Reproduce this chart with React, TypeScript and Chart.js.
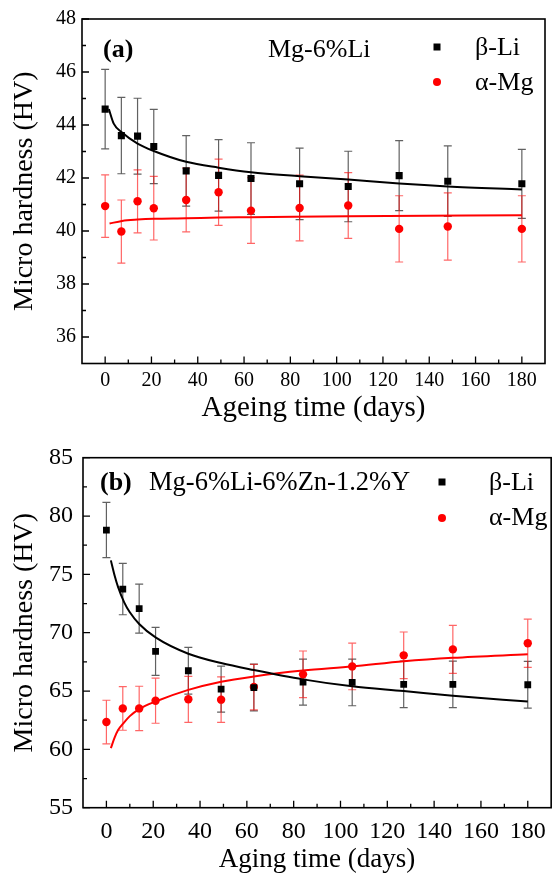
import React, { useEffect, useRef } from "react";
import { Chart, registerables } from "chart.js";

Chart.register(...registerables);

const FONT = "'Liberation Serif', 'Times New Roman', serif";

// ---- data ----
const DAYS = [0, 7, 14, 21, 35, 49, 63, 84, 105, 127, 148, 180];

// Panel (a) Mg-6%Li
const A_BETA = [44.6, 43.6, 43.58, 43.19, 42.27, 42.1, 41.98, 41.78, 41.68, 42.09, 41.88, 41.78];
const A_BETA_ERR = [1.5, 1.44, 1.43, 1.4, 1.33, 1.35, 1.35, 1.35, 1.33, 1.32, 1.33, 1.3];
const A_ALPHA = [40.94, 39.98, 41.12, 40.86, 41.17, 41.46, 40.77, 40.87, 40.96, 40.08, 40.17, 40.08];
const A_ALPHA_ERR = [1.18, 1.19, 1.19, 1.2, 1.2, 1.25, 1.24, 1.24, 1.24, 1.25, 1.27, 1.25];
const A_BETA_FIT_DAYS = [1.6, 3.7, 7.3, 14, 21, 35, 49, 63, 84, 105, 127, 148, 180];
const A_BETA_FIT = [44.6, 44.05, 43.72, 43.3, 43.02, 42.61, 42.39, 42.22, 42.07, 41.94, 41.79, 41.68, 41.57];
const A_ALPHA_FIT_DAYS = [1.9, 7.3, 14, 21, 35, 49, 63, 105, 180];
const A_ALPHA_FIT = [40.28, 40.38, 40.43, 40.46, 40.48, 40.51, 40.52, 40.56, 40.59];

// Panel (b) Mg-6%Li-6%Zn-1.2%Y
const B_BETA = [78.8, 73.74, 72.06, 68.4, 66.74, 65.17, 65.3, 65.77, 65.74, 65.57, 65.57, 65.54];
const B_BETA_ERR = [2.37, 2.2, 2.1, 2.05, 2.0, 1.97, 2.0, 1.97, 2.0, 2.0, 2.0, 2.0];
const B_ALPHA = [62.34, 63.51, 63.51, 64.17, 64.29, 64.26, 65.34, 66.43, 67.11, 68.06, 68.57, 69.09];
const B_ALPHA_ERR = [1.87, 1.87, 1.9, 1.93, 1.97, 1.95, 1.95, 2.0, 2.0, 2.0, 2.05, 2.07];
const B_BETA_FIT_DAYS = [1.9, 3.5, 5, 7.6, 10, 14, 21, 35, 49, 63, 84, 105, 127, 148, 180];
const B_BETA_FIT = [76.2, 74.9, 73.9, 72.6, 71.75, 70.75, 69.6, 68.2, 67.4, 66.8, 66.0, 65.4, 65.0, 64.6, 64.1];
const B_ALPHA_FIT_DAYS = [1.9, 3.5, 5, 7.5, 10, 14, 21, 35, 49, 63, 84, 105, 127, 148, 180];
const B_ALPHA_FIT = [60.1, 61.0, 61.65, 62.3, 62.85, 63.45, 64.1, 65.1, 65.8, 66.25, 66.75, 67.1, 67.55, 67.85, 68.15];

// ---- ticks ----
const X_TICKS = [0, 20, 40, 60, 80, 100, 120, 140, 160, 180];
const X_MINOR = [10, 30, 50, 70, 90, 110, 130, 150, 170];
const A_Y_TICKS = [36, 38, 40, 42, 44, 46, 48];
const A_Y_MINOR = [37, 39, 41, 43, 45, 47];
const B_Y_TICKS = [55, 60, 65, 70, 75, 80, 85];
const B_Y_MINOR = [57.5, 62.5, 67.5, 72.5, 77.5, 82.5];

const RED = "#ff0000";
const BLACK = "#000000";

const pts = (xs: number[], ys: number[]) => xs.map((x, i) => ({ x, y: ys[i] }));

// ---- plugins ----
const errorBarPlugin = {
  id: "errorBars",
  beforeDatasetsDraw(chart: any) {
    const { ctx } = chart;
    const xs = chart.scales.x;
    const ys = chart.scales.y;
    chart.data.datasets.forEach((ds: any) => {
      if (!ds.errors) return;
      ctx.save();
      ctx.strokeStyle = ds.errorColor;
      ctx.lineWidth = 1.2;
      ctx.beginPath();
      const cap = 4;
      ds.data.forEach((p: any, i: number) => {
        const e = ds.errors[i];
        const px = xs.getPixelForValue(p.x);
        const top = ys.getPixelForValue(p.y + e);
        const bot = ys.getPixelForValue(p.y - e);
        ctx.moveTo(px, top);
        ctx.lineTo(px, bot);
        ctx.moveTo(px - cap, top);
        ctx.lineTo(px + cap, top);
        ctx.moveTo(px - cap, bot);
        ctx.lineTo(px + cap, bot);
      });
      ctx.stroke();
      ctx.restore();
    });
  },
};

const framePlugin = {
  id: "frame",
  afterDatasetsDraw(chart: any, _args: any, opts: any) {
    const { ctx, chartArea: a } = chart;
    const xs = chart.scales.x;
    const ys = chart.scales.y;
    ctx.save();
    ctx.strokeStyle = "#000";
    ctx.lineWidth = 1.6;
    ctx.strokeRect(a.left, a.top, a.right - a.left, a.bottom - a.top);
    ctx.lineWidth = 1.3;
    ctx.beginPath();
    const major = 7;
    const minor = 4;
    opts.xMajor.forEach((v: number) => {
      const p = xs.getPixelForValue(v);
      ctx.moveTo(p, a.bottom);
      ctx.lineTo(p, a.bottom - major);
    });
    opts.xMinor.forEach((v: number) => {
      const p = xs.getPixelForValue(v);
      ctx.moveTo(p, a.bottom);
      ctx.lineTo(p, a.bottom - minor);
    });
    opts.yMajor.forEach((v: number) => {
      const p = ys.getPixelForValue(v);
      ctx.moveTo(a.left, p);
      ctx.lineTo(a.left + major, p);
    });
    opts.yMinor.forEach((v: number) => {
      const p = ys.getPixelForValue(v);
      ctx.moveTo(a.left, p);
      ctx.lineTo(a.left + minor, p);
    });
    ctx.stroke();
    ctx.restore();
  },
};

const annotPlugin = {
  id: "annot",
  afterDraw(chart: any, _args: any, opts: any) {
    const { ctx } = chart;
    ctx.save();
    ctx.textBaseline = "middle";
    ctx.textAlign = "left";
    ctx.fillStyle = "#000";
    (opts.texts || []).forEach((t: any) => {
      ctx.font = `${t.bold ? "bold " : ""}${t.size}px ${FONT}`;
      ctx.fillText(t.text, t.x, t.y);
    });
    (opts.markers || []).forEach((m: any) => {
      ctx.fillStyle = m.color;
      ctx.beginPath();
      if (m.shape === "rect") {
        ctx.rect(m.x - m.s / 2, m.y - m.s / 2, m.s, m.s);
      } else {
        ctx.arc(m.x, m.y, m.s / 2, 0, Math.PI * 2);
      }
      ctx.fill();
    });
    ctx.restore();
  },
};

type PanelCfg = {
  width: number;
  height: number;
  padTop: number;
  padRight: number;
  yAxisW: number;
  xAxisH: number;
  yMin: number;
  yMax: number;
  yTicks: number[];
  yMinor: number[];
  tickSize: number;
  xTickPad: number;
  yTickPad: number;
  xTitle: string;
  xTitleSize: number;
  xTitlePad: number;
  yTitleSize: number;
  yTitlePad: number;
  beta: number[];
  betaErr: number[];
  alpha: number[];
  alphaErr: number[];
  betaFitX: number[];
  betaFit: number[];
  alphaFitX: number[];
  alphaFit: number[];
  texts: any[];
  markers: any[];
  squareR: number;
  circleR: number;
};

const PANEL_A: PanelCfg = {
  width: 556,
  height: 430,
  padTop: 19,
  padRight: 11,
  yAxisW: 82,
  xAxisH: 66.5,
  yMin: 35,
  yMax: 48,
  yTicks: A_Y_TICKS,
  yMinor: A_Y_MINOR,
  tickSize: 20,
  xTickPad: 5,
  yTickPad: 6,
  xTitle: "Ageing time (days)",
  xTitleSize: 29,
  xTitlePad: 4,
  yTitleSize: 28,
  yTitlePad: 8,
  beta: A_BETA,
  betaErr: A_BETA_ERR,
  alpha: A_ALPHA,
  alphaErr: A_ALPHA_ERR,
  betaFitX: A_BETA_FIT_DAYS,
  betaFit: A_BETA_FIT,
  alphaFitX: A_ALPHA_FIT_DAYS,
  alphaFit: A_ALPHA_FIT,
  texts: [
    { text: "(a)", x: 103, y: 50, size: 26, bold: true },
    { text: "Mg-6%Li", x: 268, y: 50, size: 26 },
    { text: "β-Li", x: 475, y: 48, size: 26 },
    { text: "α-Mg", x: 475, y: 83, size: 26 },
  ],
  markers: [
    { shape: "rect", x: 437, y: 47, s: 7, color: BLACK },
    { shape: "circle", x: 437, y: 82, s: 8, color: RED },
  ],
  squareR: 5,
  circleR: 4.2,
};

const PANEL_B: PanelCfg = {
  width: 556,
  height: 447,
  padTop: 27.7,
  padRight: 1,
  yAxisW: 83,
  xAxisH: 69.3,
  yMin: 55,
  yMax: 85,
  yTicks: B_Y_TICKS,
  yMinor: B_Y_MINOR,
  tickSize: 24,
  xTickPad: 10,
  yTickPad: 10,
  xTitle: "Aging time (days)",
  xTitleSize: 27,
  xTitlePad: 1,
  yTitleSize: 28,
  yTitlePad: 8,
  beta: B_BETA,
  betaErr: B_BETA_ERR,
  alpha: B_ALPHA,
  alphaErr: B_ALPHA_ERR,
  betaFitX: B_BETA_FIT_DAYS,
  betaFit: B_BETA_FIT,
  alphaFitX: B_ALPHA_FIT_DAYS,
  alphaFit: B_ALPHA_FIT,
  texts: [
    { text: "(b)", x: 100, y: 53, size: 26, bold: true },
    { text: "Mg-6%Li-6%Zn-1.2%Y", x: 149, y: 53, size: 26.5 },
    { text: "β-Li", x: 489, y: 53, size: 26 },
    { text: "α-Mg", x: 489, y: 88, size: 26 },
  ],
  markers: [
    { shape: "rect", x: 442, y: 52, s: 7, color: BLACK },
    { shape: "circle", x: 442, y: 88, s: 8, color: RED },
  ],
  squareR: 4.8,
  circleR: 4.2,
};

function makeConfig(c: PanelCfg): any {
  return {
    type: "scatter",
    data: {
      datasets: [
        {
          label: "β-Li",
          data: pts(DAYS, c.beta),
          errors: c.betaErr,
          errorColor: "rgba(0,0,0,0.62)",
          pointStyle: "rect",
          pointRadius: c.squareR,
          backgroundColor: BLACK,
          borderColor: BLACK,
          borderWidth: 0,
          order: 0,
        },
        {
          label: "α-Mg",
          data: pts(DAYS, c.alpha),
          errors: c.alphaErr,
          errorColor: "rgba(255,0,0,0.6)",
          pointStyle: "circle",
          pointRadius: c.circleR,
          backgroundColor: RED,
          borderColor: RED,
          borderWidth: 0,
          order: 0,
        },
        {
          label: "β-Li fit",
          data: pts(c.betaFitX, c.betaFit),
          showLine: true,
          pointRadius: 0,
          borderColor: BLACK,
          borderWidth: 2,
          cubicInterpolationMode: "monotone",
          order: 1,
        },
        {
          label: "α-Mg fit",
          data: pts(c.alphaFitX, c.alphaFit),
          showLine: true,
          pointRadius: 0,
          borderColor: RED,
          borderWidth: 2,
          cubicInterpolationMode: "monotone",
          order: 1,
        },
      ],
    },
    options: {
      responsive: false,
      animation: false,
      events: [],
      layout: { padding: { top: c.padTop, right: c.padRight, left: 0, bottom: 0 } },
      plugins: {
        legend: { display: false },
        tooltip: { enabled: false },
        frame: { xMajor: X_TICKS, xMinor: X_MINOR, yMajor: c.yTicks, yMinor: c.yMinor },
        annot: { texts: c.texts, markers: c.markers },
      },
      scales: {
        x: {
          type: "linear",
          min: -10,
          max: 190,
          grid: { display: false, drawTicks: false },
          border: { display: false },
          afterBuildTicks: (s: any) => {
            s.ticks = X_TICKS.map((v) => ({ value: v }));
          },
          afterFit: (s: any) => {
            s.height = c.xAxisH;
          },
          ticks: {
            autoSkip: false,
            maxRotation: 0,
            color: "#000",
            padding: c.xTickPad,
            font: { family: FONT, size: c.tickSize },
          },
          title: {
            display: true,
            text: c.xTitle,
            color: "#000",
            font: { family: FONT, size: c.xTitleSize },
            padding: { top: 0, bottom: c.xTitlePad },
          },
        },
        y: {
          type: "linear",
          min: c.yMin,
          max: c.yMax,
          grid: { display: false, drawTicks: false },
          border: { display: false },
          afterBuildTicks: (s: any) => {
            s.ticks = c.yTicks.map((v) => ({ value: v }));
          },
          afterFit: (s: any) => {
            s.width = c.yAxisW;
          },
          ticks: {
            autoSkip: false,
            color: "#000",
            padding: c.yTickPad,
            font: { family: FONT, size: c.tickSize },
          },
          title: {
            display: true,
            text: "Micro hardness (HV)",
            color: "#000",
            font: { family: FONT, size: c.yTitleSize },
            padding: { top: c.yTitlePad, bottom: 0 },
          },
        },
      },
    },
    plugins: [errorBarPlugin, framePlugin, annotPlugin],
  };
}

function Panel({ cfg, top }: { cfg: PanelCfg; top: number }) {
  const ref = useRef<HTMLCanvasElement | null>(null);
  useEffect(() => {
    if (!ref.current) return;
    const chart = new Chart(ref.current, makeConfig(cfg));
    return () => chart.destroy();
  }, [cfg]);
  return (
    <canvas
      ref={ref}
      width={cfg.width}
      height={cfg.height}
      style={{ position: "absolute", left: 0, top, width: cfg.width, height: cfg.height, display: "block" }}
    />
  );
}

export default function App() {
  return (
    <div style={{ position: "absolute", left: 0, top: 0, width: 556, height: 877, background: "#fff" }}>
      <Panel cfg={PANEL_A} top={0} />
      <Panel cfg={PANEL_B} top={430} />
    </div>
  );
}
